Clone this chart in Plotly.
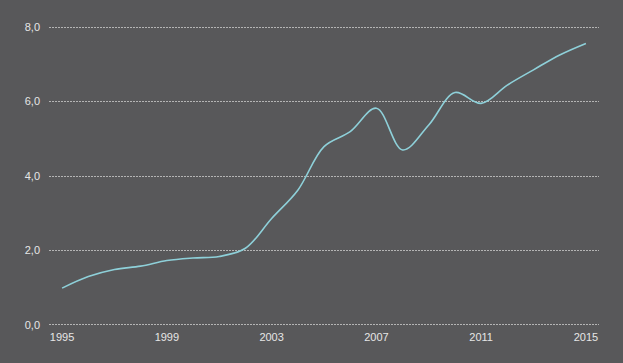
import plotly.graph_objects as go

years = list(range(1995, 2016))
values = [0.99, 1.30, 1.49, 1.58, 1.73, 1.80, 1.84, 2.06, 2.86, 3.62, 4.79,
          5.19, 5.82, 4.70, 5.37, 6.24, 5.95, 6.44, 6.85, 7.25, 7.56]
x_ticks = [1995, 1999, 2003, 2007, 2011, 2015]
y_ticks = [0, 2, 4, 6, 8]

fig = go.Figure()
fig.add_trace(go.Scatter(
    x=years, y=values, mode="lines",
    line=dict(color="#8ed0d9", width=1.6, shape="spline", smoothing=1.0),
    hoverinfo="skip", showlegend=False,
))

fig.update_layout(
    width=623, height=363,
    margin=dict(l=49, r=24, t=26, b=37),
    paper_bgcolor="#58585a", plot_bgcolor="#58585a",
    separators=",.",
    font=dict(family="Liberation Sans, Arial, sans-serif", size=11, color="#e6e6e6"),
    xaxis=dict(
        range=[1994.5, 2015.5], tickmode="array", tickvals=x_ticks,
        ticktext=[str(v) for v in x_ticks],
        showgrid=False, zeroline=False, showline=False, ticks="",
        ticklabelstandoff=3,
    ),
    yaxis=dict(
        range=[-0.027, 8.027], tickmode="array", tickvals=y_ticks, tickformat=".1f",
        showgrid=True, gridcolor="#b4b4b4", griddash="2px,1px", gridwidth=1,
        zeroline=False, showline=False, ticks="", ticklabelstandoff=8,
    ),
)

fig.write_html(
    "out.html",
    config={"displayModeBar": False, "staticPlot": True},
    post_script="document.body.style.margin='0';document.body.style.background='#58585a';",
)
